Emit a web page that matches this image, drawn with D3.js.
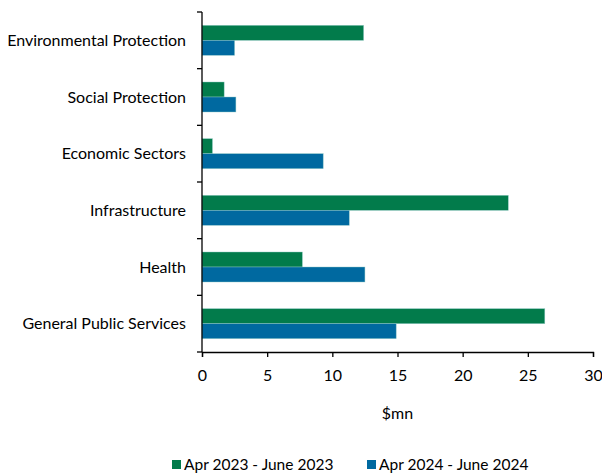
<!DOCTYPE html>
<html>
<head>
<meta charset="utf-8">
<script src="https://cdn.jsdelivr.net/npm/d3@7"></script>
<style>
  html, body { margin: 0; padding: 0; background: #fff; }
  svg { display: block; font-family: Lato, "Open Sans", sans-serif; }
</style>
</head>
<body>
<svg id="chart" width="602" height="473"></svg>
<script>
// Spending by function, $mn
const categories = ["Environmental Protection", "Social Protection", "Economic Sectors", "Infrastructure", "Health", "General Public Services"];
const seriesNames = ["Apr 2023 - June 2023", "Apr 2024 - June 2024"];
const values2023 = [12.4, 1.7, 0.8, 23.5, 7.7, 26.3];
const values2024 = [2.5, 2.6, 9.3, 11.3, 12.5, 14.9];
const xTicks = [0, 5, 10, 15, 20, 25, 30];
const colors = ["#027b4b", "#0069a0"];

const svg = d3.select("#chart");
const margin = { left: 202, right: 9, top: 12, bottom: 121 };
const W = 602, H = 473;

const x = d3.scaleLinear().domain([0, 30]).range([margin.left, W - margin.right]);
const y = d3.scaleBand().domain(categories).range([margin.top, H - margin.bottom]).paddingInner(0).paddingOuter(0);
const inner = d3.scaleBand().domain(seriesNames).range([0, y.bandwidth()]).paddingInner(0).paddingOuter(0.89);

const rows = categories.map((c, i) => ({ cat: c, vals: [values2023[i], values2024[i]] }));

const g = svg.append("g");
const groups = g.selectAll("g.cat").data(rows).join("g")
  .attr("transform", d => `translate(0,${y(d.cat)})`);
groups.selectAll("rect").data(d => d.vals.map((v, k) => ({ v, k })))
  .join("rect")
  .attr("x", x(0))
  .attr("y", d => inner(seriesNames[d.k]))
  .attr("width", d => x(d.v) - x(0))
  .attr("height", inner.bandwidth())
  .attr("fill", d => colors[d.k])
  .attr("stroke", "#8fc9c4")
  .attr("stroke-width", 0.6)
  .attr("stroke-opacity", 0.7);

// Category axis: ticks at band boundaries, labels centred in bands
const yAxisG = g.append("g");
yAxisG.append("line")
  .attr("x1", x(0)).attr("x2", x(0))
  .attr("y1", margin.top).attr("y2", H - margin.bottom)
  .attr("stroke", "#000").attr("stroke-width", 1.3);
const bounds = categories.map(c => y(c)).concat([y(categories[categories.length - 1]) + y.bandwidth()]);
yAxisG.selectAll("line.tick").data(bounds).join("line")
  .attr("class", "tick")
  .attr("x1", x(0) - 5).attr("x2", x(0))
  .attr("y1", d => d).attr("y2", d => d)
  .attr("stroke", "#000").attr("stroke-width", 1.3);
yAxisG.selectAll("text").data(categories).join("text")
  .attr("x", 186)
  .attr("y", d => y(d) + y.bandwidth() / 2)
  .attr("dy", "0.35em")
  .attr("text-anchor", "end")
  .attr("font-size", 16)
  .attr("fill", "#000")
  .text(d => d);

// Value axis
const xAxis = d3.axisBottom(x).tickValues(xTicks).tickSize(5).tickPadding(13).tickFormat(d3.format("d"));
const xAxisG = g.append("g")
  .attr("transform", `translate(0,${H - margin.bottom})`)
  .call(xAxis);
xAxisG.select(".domain").attr("stroke", "#000").attr("stroke-width", 1.3);
xAxisG.selectAll(".tick line").attr("stroke", "#000").attr("stroke-width", 1.3);
xAxisG.selectAll(".tick text").attr("font-size", 16).attr("fill", "#000").attr("font-family", "Lato, 'Open Sans', sans-serif");

g.append("text")
  .attr("x", (x(0) + x(30)) / 2)
  .attr("y", 419)
  .attr("text-anchor", "middle")
  .attr("font-size", 16)
  .attr("fill", "#000")
  .text("$mn");

// Legend
const legendPos = [172, 367];
const leg = g.selectAll("g.legend").data(seriesNames).join("g")
  .attr("class", "legend")
  .attr("transform", (d, i) => `translate(${legendPos[i]},460)`);
leg.append("rect").attr("x", 0).attr("y", 0).attr("width", 9).attr("height", 9)
  .attr("fill", (d, i) => colors[i]);
leg.append("text").attr("x", 12).attr("y", 10)
  .attr("font-size", 15.5).attr("fill", "#000")
  .text(d => d);
</script>
</body>
</html>
